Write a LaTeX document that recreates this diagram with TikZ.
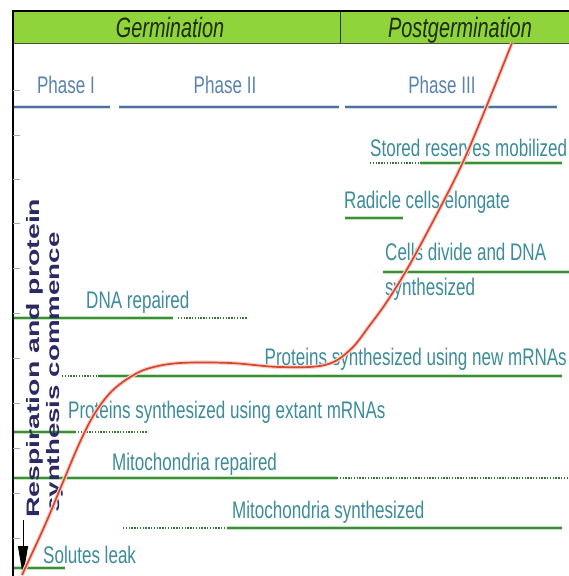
\documentclass[tikz,border=0pt]{standalone}
\usepackage{fontspec}
\setmainfont{Liberation Sans}
\newfontfamily\condfont[FakeStretch=0.71]{Liberation Sans}
\usetikzlibrary{arrows.meta}
\definecolor{headgreen}{HTML}{8FD43A}
\definecolor{headtext}{HTML}{1F2B0A}
\definecolor{phtext}{HTML}{5A84AE}
\definecolor{phline}{HTML}{4D72A0}
\definecolor{lbltext}{HTML}{3C8C9A}
\definecolor{lgreen}{HTML}{3E8A40}
\definecolor{lglow}{HTML}{BDE8B0}
\definecolor{curvered}{HTML}{D8462E}
\definecolor{navy}{HTML}{2C2A63}
\tikzset{
  lbl/.style={inner sep=0pt, text=lbltext, font=\condfont\fontsize{24}{26}\selectfont},
  phase/.style={inner sep=0pt, text=phtext, font=\condfont\fontsize{24}{26}\selectfont},
  head/.style={inner sep=0pt, text=headtext, font=\condfont\itshape\fontsize{28}{30}\selectfont},
  vtext/.style={inner sep=0pt, text=navy, rotate=90, anchor=base west, font=\bfseries\fontsize{18}{20}\selectfont},
  solidg/.style={draw=lgreen, line width=1.8pt, preaction={draw=lglow, line width=4.5pt}},
  dotg/.style={draw=lgreen!85!black, line width=2.6pt, dash pattern=on 1.4pt off 1.4pt},
  phl/.style={draw=phline, line width=1.6pt, preaction={draw=phline!25, line width=4pt}},
  tick/.style={draw=gray!70, line width=0.7pt}
}
\begin{document}
\begin{tikzpicture}[x=1pt,y=-1pt]
\useasboundingbox (0,0) rectangle (569,576);
\fill[white] (0,0) rectangle (569,576);
% header band
\fill[headgreen] (13,11) rectangle (569,43);
\draw[headtext!80, line width=0.8pt] (13,43) -- (569,43);
\draw[black!80, line width=1pt] (340,11) -- (340,43);
\node[head, anchor=base] (germ) at (170,37) {Germination};
\node[head, anchor=base] (postg) at (460,37) {Postgermination};
% frame
\draw[black, line width=2pt] (13,576) -- (13,11) -- (569,11);
% ticks
\foreach \ty in {90,135,179,223,268,313,358,403,448,493,538}
  \draw[tick] (13,\ty) -- (20,\ty);
% phases
\node[phase, anchor=base] (p1) at (66,93) {Phase I};
\node[phase, anchor=base] (p2) at (225,93) {Phase II};
\node[phase, anchor=base] (p3) at (442,93) {Phase III};
\draw[phl] (14,107) -- (110,107);
\draw[phl] (119,107) -- (339,107);
\draw[phl] (345,107) -- (557,107);
% green lines
\draw[dotg] (370,163) -- (420,163);
\draw[solidg] (420,163) -- (562,163);
\draw[solidg] (345,218) -- (403,218);
\draw[solidg] (383,272) -- (569,272);
\draw[solidg] (14,318) -- (173,318);
\draw[dotg] (178,318) -- (247,318);
\draw[dotg] (62,376) -- (100,376);
\draw[solidg] (100,376) -- (562,376);
\draw[solidg] (14,432) -- (76,432);
\draw[dotg] (78,432) -- (148,432);
\draw[solidg] (14,478) -- (337,478);
\draw[dotg] (337,478) -- (569,478);
\draw[dotg] (123,528) -- (227,528);
\draw[solidg] (227,528) -- (562,528);
\draw[solidg] (14,568) -- (65,568);
% labels
\node[lbl, anchor=base west] (stored) at (370,156) {Stored reserves mobilized};
\node[lbl, anchor=base west] (radicle) at (344,208) {Radicle cells elongate};
\node[lbl, anchor=base west] (cells) at (385,260) {Cells divide and DNA};
\node[lbl, anchor=base west] (cells2) at (385,295) {synthesized};
\node[lbl, anchor=base west] (dna) at (86,308) {DNA repaired};
\node[lbl, anchor=base east] (newm) at (567,365) {Proteins synthesized using new mRNAs};
\node[lbl, anchor=base west] (extm) at (68,418) {Proteins synthesized using extant mRNAs};
\node[lbl, anchor=base west] (mrep) at (112,470) {Mitochondria repaired};
\node[lbl, anchor=base west] (msyn) at (232,518) {Mitochondria synthesized};
\node[lbl, anchor=base west] (sol) at (43,563) {Solutes leak};
% vertical text
\node[vtext] (resp) at (39,518) {\scalebox{1.58}[1]{Respiration and protein}};
\node[vtext] (synt) at (59,513) {\scalebox{1.54}[1]{synthesis commence}};
% arrow
\coordinate (arrS) at (23,520);
\coordinate (arrE) at (23,576);
\draw[black, line width=0.9pt, -{Triangle[length=30pt,width=10pt]}] (arrS) -- (arrE);
% curve
\draw[curvered, line width=1.7pt, preaction={draw=curvered!25, line width=4pt}]
  plot[smooth, tension=0.6] coordinates {(22,575) (45,525) (63,482) (80,442) (95,413) (112,391) (132,376) (150,368) (180,363) (230,363) (280,367) (325,365) (350,350) (370,325) (388,300) (410,264) (440,208) (463,162) (485,110) (512,43)};
\end{tikzpicture}
\end{document}
